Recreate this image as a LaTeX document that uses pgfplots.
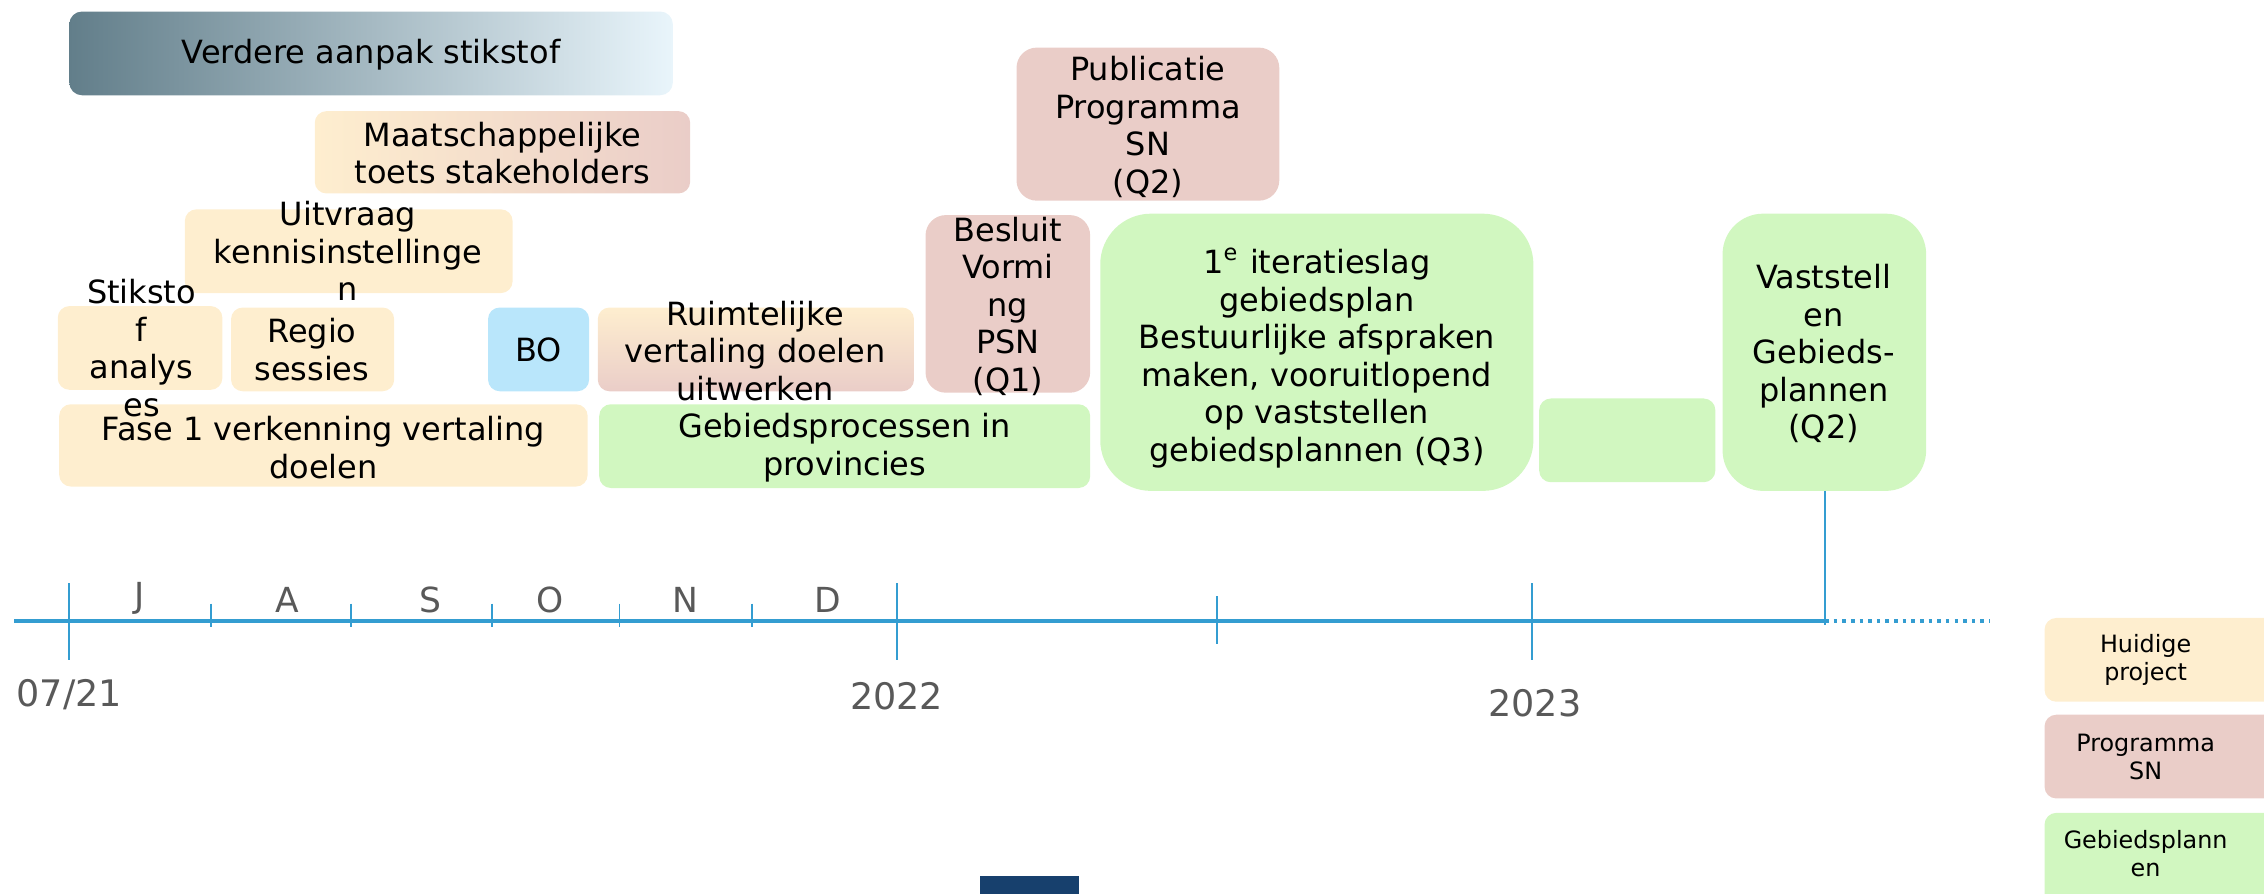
\documentclass[border=0pt]{standalone}
\usepackage{pgfplots}
\pgfplotsset{compat=1.18}
\usepackage{fontspec}
\setmainfont{DejaVu Sans}
\definecolor{cream}{RGB}{254,238,207}
\definecolor{pinkb}{RGB}{234,205,200}
\definecolor{greenb}{RGB}{209,247,192}
\definecolor{blueb}{RGB}{185,230,251}
\definecolor{slate}{RGB}{98,126,138}
\definecolor{lightb}{RGB}{233,245,251}
\definecolor{tl}{RGB}{52,157,209}
\definecolor{lab}{RGB}{89,89,89}
\definecolor{navy}{RGB}{23,64,109}
\tikzset{
  txt/.style={font=\fontsize{6.3}{7.4}\selectfont, align=center, inner sep=0pt},
  lg/.style={font=\fontsize{4.7}{5.5}\selectfont, align=center, inner sep=0pt},
  mon/.style={font=\fontsize{6.8}{8}\selectfont, text=lab, inner sep=0pt, anchor=base},
  yr/.style={font=\fontsize{7.2}{8}\selectfont, text=lab, inner sep=0pt},
}
\begin{document}
\begin{tikzpicture}
\useasboundingbox (0,0) rectangle (15.68cm,6.19cm);
\clip (0,0) rectangle (15.68cm,6.19cm);
\begin{axis}[
  at={(0,0)}, anchor=south west,
  scale only axis, width=15.68cm, height=6.19cm,
  xmin=0, xmax=1568, ymin=0, ymax=619, y dir=reverse,
  hide axis, clip=false,
]
% ---------- boxes ----------
\addplot[draw=none, left color=slate, right color=lightb, rounded corners=2.5pt] coordinates {(48,8) (466,8) (466,66) (48,66)} -- cycle;
\addplot[draw=none, left color=cream, right color=pinkb, rounded corners=2.3pt] coordinates {(218,77) (478,77) (478,134) (218,134)} -- cycle;
\addplot[draw=none, fill=cream, rounded corners=2.3pt] coordinates {(128,145) (355,145) (355,203) (128,203)} -- cycle;
\addplot[draw=none, fill=cream, rounded corners=2.3pt] coordinates {(40,212) (154,212) (154,270) (40,270)} -- cycle;
\addplot[draw=none, fill=cream, rounded corners=2.3pt] coordinates {(160,213) (273,213) (273,271) (160,271)} -- cycle;
\addplot[draw=none, fill=blueb, rounded corners=2.3pt] coordinates {(338,213) (408,213) (408,271) (338,271)} -- cycle;
\addplot[draw=none, top color=cream, bottom color=pinkb, rounded corners=2.3pt] coordinates {(414,213) (633,213) (633,271) (414,271)} -- cycle;
\addplot[draw=none, fill=cream, rounded corners=2.3pt] coordinates {(41,280) (407,280) (407,337) (41,337)} -- cycle;
\addplot[draw=none, fill=greenb, rounded corners=2.3pt] coordinates {(415,280) (755,280) (755,338) (415,338)} -- cycle;
\addplot[draw=none, fill=pinkb, rounded corners=4pt] coordinates {(641,149) (755,149) (755,272) (641,272)} -- cycle;
\addplot[draw=none, fill=pinkb, rounded corners=4pt] coordinates {(704,33) (886,33) (886,139) (704,139)} -- cycle;
\addplot[draw=none, fill=greenb, rounded corners=10pt] coordinates {(762,148) (1062,148) (1062,340) (762,340)} -- cycle;
\addplot[draw=none, fill=greenb, rounded corners=2.3pt] coordinates {(1066,276) (1188,276) (1188,334) (1066,334)} -- cycle;
\addplot[draw=none, fill=greenb, rounded corners=8pt] coordinates {(1193,148) (1334,148) (1334,340) (1193,340)} -- cycle;
% legend boxes
\addplot[draw=none, fill=cream, rounded corners=2.3pt] coordinates {(1416,428) (1600,428) (1600,486) (1416,486)} -- cycle;
\addplot[draw=none, fill=pinkb, rounded corners=2.3pt] coordinates {(1416,495) (1600,495) (1600,553) (1416,553)} -- cycle;
\addplot[draw=none, fill=greenb, rounded corners=2.3pt] coordinates {(1416,563) (1600,563) (1600,640) (1416,640)} -- cycle;
% dark blue block
\addplot[draw=none, fill=navy] coordinates {(679,607) (747,607) (747,640) (679,640)} -- cycle;
% ---------- timeline ----------
\addplot[tl, line width=0.7pt] coordinates {(10,430) (1264,430)};
\addplot[tl, line width=0.7pt, densely dotted] coordinates {(1264,430) (1378,430)};
\addplot[tl, line width=0.35pt] coordinates {(48,404) (48,457)};
\addplot[tl, line width=0.35pt] coordinates {(621,404) (621,457)};
\addplot[tl, line width=0.35pt] coordinates {(1061,404) (1061,457)};
\addplot[tl, line width=0.35pt] coordinates {(1264,340) (1264,433)};
\addplot[tl, line width=0.35pt] coordinates {(843,413) (843,446)};
\addplot[tl, line width=0.35pt] coordinates {(146,418) (146,434)};
\addplot[tl, line width=0.35pt] coordinates {(243,418) (243,434)};
\addplot[tl, line width=0.35pt] coordinates {(341,418) (341,434)};
\addplot[tl, line width=0.35pt] coordinates {(429,418) (429,434)};
\addplot[tl, line width=0.35pt] coordinates {(521,418) (521,434)};
% ---------- labels ----------
\node[mon] at (axis cs:97,421) {J};
\node[mon] at (axis cs:199,424) {A};
\node[mon] at (axis cs:298,424) {S};
\node[mon] at (axis cs:381,424) {O};
\node[mon] at (axis cs:475,424) {N};
\node[mon] at (axis cs:573,424) {D};
\node[yr] at (axis cs:48,481) {07/21};
\node[yr] at (axis cs:621,482) {2022};
\node[yr] at (axis cs:1063,487) {2023};
% ---------- box texts ----------
\node[txt] at (axis cs:257,38) {Verdere aanpak stikstof};
\node[txt] at (axis cs:348,106) {Maatschappelijke\\toets stakeholders};
\node[txt] at (axis cs:241,174) {Uitvraag\\kennisinstellinge\\n};
\node[txt] at (axis cs:98,241) {Stiksto\\f\\analys\\es};
\node[txt] at (axis cs:216,242) {Regio\\sessies};
\node[txt] at (axis cs:373,242) {BO};
\node[txt] at (axis cs:523,243) {Ruimtelijke\\vertaling doelen\\uitwerken};
\node[txt] at (axis cs:224,310) {Fase 1 verkenning vertaling\\doelen};
\node[txt] at (axis cs:585,310) {Gebiedsprocessen in\\provincies};
\node[txt] at (axis cs:698,212) {Besluit\\Vormi\\ng\\PSN\\(Q1)};
\node[txt] at (axis cs:795,88) {Publicatie\\Programma\\SN\\(Q2)};
\node[txt] at (axis cs:912,248) {1\textsuperscript{e} iteratieslag\\gebiedsplan\\Bestuurlijke afspraken\\maken, vooruitlopend\\op vaststellen\\gebiedsplannen (Q3)};
\node[txt] at (axis cs:1263,245) {Vaststell\\en\\Gebieds-\\plannen\\(Q2)};
\node[lg] at (axis cs:1486,457) {Huidige\\project};
\node[lg] at (axis cs:1486,524) {Programma\\SN};
\node[lg] at (axis cs:1486,591) {Gebiedsplann\\en};
\end{axis}
\end{tikzpicture}
\end{document}
